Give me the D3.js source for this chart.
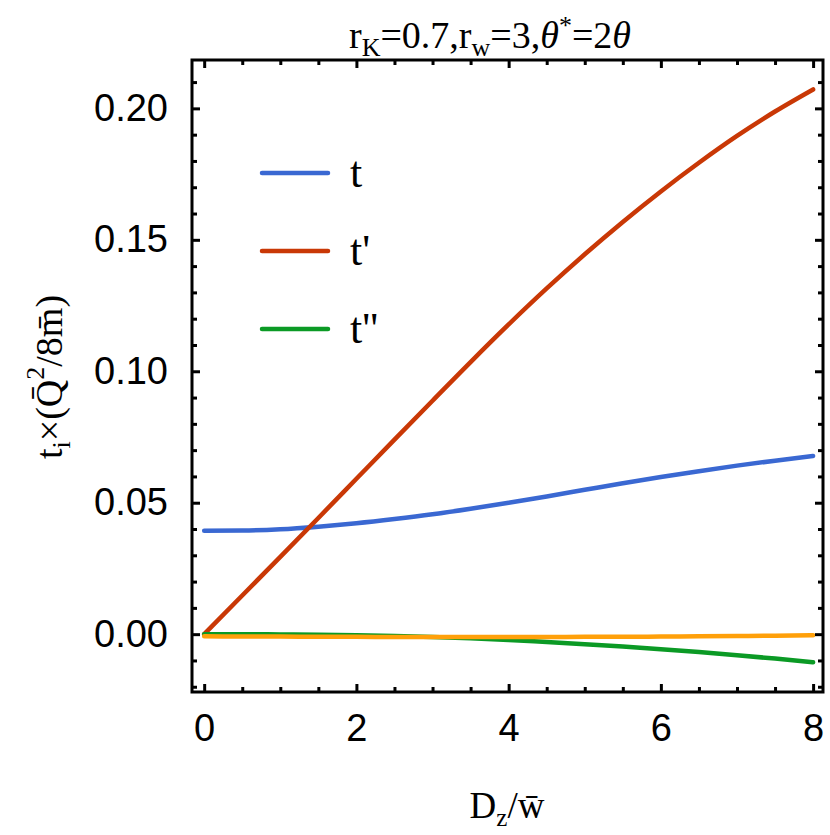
<!DOCTYPE html>
<html>
<head>
<meta charset="utf-8">
<script src="https://cdn.jsdelivr.net/npm/d3@7"></script>
<style>
  body { margin: 0; background: #fff; }
  svg { display: block; }
</style>
</head>
<body>
<div id="chart"></div>
<script>
// values
const xs      = [0, 0.5, 1, 1.5, 2, 2.5, 3, 3.5, 4, 4.5, 5, 5.5, 6, 6.5, 7, 7.5, 8]
const tVals   = [0.0393, 0.0394, 0.0399, 0.0409, 0.0422, 0.0438, 0.0456, 0.0477, 0.0500, 0.0524, 0.0549, 0.0574, 0.0598, 0.0620, 0.0641, 0.0660, 0.0678]
const t1Vals  = [0, 0.0147, 0.0294, 0.0442, 0.0591, 0.0740, 0.0888, 0.1035, 0.1178, 0.1315, 0.1445, 0.1568, 0.1684, 0.1793, 0.1895, 0.1988, 0.2072]
const t2Vals  = [0, 0, -0.0001, -0.0002, -0.0004, -0.0007, -0.0011, -0.0016, -0.0022, -0.0030, -0.0038, -0.0047, -0.0057, -0.0068, -0.0080, -0.0093, -0.0107]
const t3Vals  = [-0.0008, -0.0009, -0.0009, -0.0010, -0.0010, -0.0011, -0.0011, -0.0011, -0.0011, -0.0011, -0.0010, -0.0010, -0.0009, -0.0008, -0.0007, -0.0006, -0.0004]
const xTicks  = [0, 2, 4, 6, 8]
const yTicks  = [0, 0.05, 0.10, 0.15, 0.20]
const legendNames = ["t", "t'", "t''"]

const colors = ["#3a68d2", "#c93806", "#0b9a25", "#ffa00a"]

const width = 830, height = 835
const frame = {left: 192, right: 823, top: 60, bottom: 692}

const svg = d3.select("#chart").append("svg")
    .attr("width", width)
    .attr("height", height)

const x = d3.scaleLinear()
    .domain([-0.16, 8.13])
    .range([frame.left, frame.right])

const y = d3.scaleLinear()
    .domain([-0.022, 0.2184])
    .range([frame.bottom, frame.top])

// curves
const line = d3.line()
    .x(d => x(d[0]))
    .y(d => y(d[1]))
    .curve(d3.curveMonotoneX)

const series = [tVals, t1Vals, t2Vals, t3Vals]
series.forEach((vals, i) => {
  svg.append("path")
      .datum(xs.map((v, j) => [v, vals[j]]))
      .attr("fill", "none")
      .attr("stroke", colors[i])
      .attr("stroke-width", 4.5)
      .attr("stroke-linecap", "round")
      .attr("stroke-linejoin", "round")
      .attr("d", line)
})

// frame
svg.append("rect")
    .attr("x", frame.left)
    .attr("y", frame.top)
    .attr("width", frame.right - frame.left)
    .attr("height", frame.bottom - frame.top)
    .attr("fill", "none")
    .attr("stroke", "#000")
    .attr("stroke-width", 3)

// ticks, pointing inwards on all four sides
const xMinor = d3.range(0, 8.01, 0.5).filter(v => !xTicks.includes(v))
const yMinor = d3.range(-2, 22).map(v => v / 100).filter(v => !yTicks.some(t => Math.abs(t - v) < 1e-9))

const bottomAxis = d3.axisBottom(x).tickValues(xTicks).tickSize(-8).tickPadding(22).tickFormat(d3.format("d"))
const bottomMinor = d3.axisBottom(x).tickValues(xMinor).tickSize(-5).tickFormat("")
const topAxis = d3.axisTop(x).tickValues(xTicks).tickSize(-8).tickFormat("")
const topMinor = d3.axisTop(x).tickValues(xMinor).tickSize(-5).tickFormat("")
const leftAxis = d3.axisLeft(y).tickValues(yTicks).tickSize(-8).tickPadding(24).tickFormat(d3.format(".2f"))
const leftMinor = d3.axisLeft(y).tickValues(yMinor).tickSize(-5).tickFormat("")
const rightAxis = d3.axisRight(y).tickValues(yTicks).tickSize(-8).tickFormat("")
const rightMinor = d3.axisRight(y).tickValues(yMinor).tickSize(-5).tickFormat("")

const styleAxis = g => {
  g.select(".domain").remove()
  g.selectAll(".tick line").attr("stroke", "#000").attr("stroke-width", 3)
  g.selectAll(".tick text")
      .attr("fill", "#000")
      .style("font-family", "'Liberation Sans', Arial, sans-serif")
      .style("font-size", "38px")
}

svg.append("g").attr("transform", `translate(0,${frame.bottom})`).call(bottomAxis).call(styleAxis)
svg.append("g").attr("transform", `translate(0,${frame.bottom})`).call(bottomMinor).call(styleAxis)
svg.append("g").attr("transform", `translate(0,${frame.top})`).call(topAxis).call(styleAxis)
svg.append("g").attr("transform", `translate(0,${frame.top})`).call(topMinor).call(styleAxis)
svg.append("g").attr("transform", `translate(${frame.left},0)`).call(leftAxis).call(styleAxis)
svg.append("g").attr("transform", `translate(${frame.left},0)`).call(leftMinor).call(styleAxis)
svg.append("g").attr("transform", `translate(${frame.right},0)`).call(rightAxis).call(styleAxis)
svg.append("g").attr("transform", `translate(${frame.right},0)`).call(rightMinor).call(styleAxis)

// legend
const serif = "'Liberation Serif', 'Times New Roman', serif"
const legend = svg.append("g")
legendNames.forEach((name, i) => {
  const ly = 173 + i * 78
  legend.append("line")
      .attr("x1", 262).attr("x2", 328)
      .attr("y1", ly).attr("y2", ly)
      .attr("stroke", colors[i])
      .attr("stroke-width", 4.5)
      .attr("stroke-linecap", "round")
  legend.append("text")
      .attr("x", 350)
      .attr("y", ly + 14)
      .style("font-family", serif)
      .style("font-size", "44px")
      .text(name)
})

// title
const title = svg.append("text")
    .attr("x", 490)
    .attr("y", 48)
    .attr("text-anchor", "middle")
    .style("font-family", serif)
    .style("font-size", "38px")
title.append("tspan").text("r")
title.append("tspan").attr("dy", 8).style("font-size", "26px").text("K")
title.append("tspan").attr("dy", -8).text("=0.7,r")
title.append("tspan").attr("dy", 8).style("font-size", "26px").text("w")
title.append("tspan").attr("dy", -8).text("=3,")
title.append("tspan").style("font-style", "italic").text("θ")
title.append("tspan").attr("dy", -14).style("font-size", "26px").text("*")
title.append("tspan").attr("dy", 14).text("=2")
title.append("tspan").style("font-style", "italic").text("θ")

// x label
const xl = svg.append("text")
    .attr("x", 507)
    .attr("y", 818)
    .attr("text-anchor", "middle")
    .style("font-family", serif)
    .style("font-size", "37px")
xl.append("tspan").text("D")
xl.append("tspan").attr("dy", 8).style("font-size", "25px").text("z")
xl.append("tspan").attr("dy", -8).text("/w\u0304")

// y label
const yl = svg.append("text")
    .attr("transform", "translate(62,377) rotate(-90)")
    .attr("text-anchor", "middle")
    .style("font-family", serif)
    .style("font-size", "38px")
yl.append("tspan").text("t")
yl.append("tspan").attr("dy", 8).style("font-size", "26px").text("i")
yl.append("tspan").attr("dy", -8).text("×(Q\u0304")
yl.append("tspan").attr("dy", -18).style("font-size", "26px").text("2")
yl.append("tspan").attr("dy", 18).text("/8m\u0304)")
</script>
</body>
</html>
